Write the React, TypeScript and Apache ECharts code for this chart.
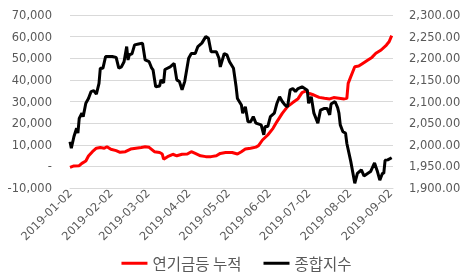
import React, { useEffect, useRef } from 'react';
import * as echarts from 'echarts';

const tickLabels = ['2019-01-02', '2019-02-02', '2019-03-02', '2019-04-02', '2019-05-02', '2019-06-02', '2019-07-02', '2019-08-02', '2019-09-02'];

const fundName = '연기금등 누적';
const kospiName = '종합지수';

const fundDates = ['01-02','01-05','01-09','01-11','01-14','01-16','01-19','01-22','01-25','01-28','01-30','02-02','02-06','02-09','02-13','02-17','02-21','02-25','02-28','03-03','03-07','03-11','03-13','03-14','03-17','03-21','03-24','03-28','04-01','04-04','04-07','04-11','04-15','04-19','04-23','04-26','04-30','05-05','05-09','05-12','05-15','05-19','05-23','05-25','05-28','06-01','06-05','06-08','06-12','06-16','06-20','06-24','06-27','06-30','07-02','07-06','07-10','07-14','07-18','07-21','07-25','07-29','07-31','08-01','08-03','08-06','08-09','08-12','08-16','08-19','08-22','08-26','08-30','09-01','09-03'];
const fundValues = [-500,200,300,1400,2500,4800,6800,8400,8700,8400,9100,7900,7300,6500,6800,8000,8400,8700,9100,8800,6800,6400,5700,3300,4500,5600,4900,5600,5700,6800,6000,4900,4500,4500,4900,6000,6400,6400,5700,6800,8000,8400,8900,9600,12200,14500,17600,20700,24500,27600,29500,31300,34100,34900,33800,33000,31900,31500,31200,31800,31500,31200,31500,38400,41500,46100,46400,47600,49200,50400,52300,53800,56100,57600,60500];

const kospiDates = ['01-02','01-03','01-05','01-07','01-08','01-09','01-11','01-12','01-14','01-16','01-18','01-20','01-22','01-24','01-25','01-27','01-29','02-03','02-06','02-08','02-10','02-12','02-14','02-15','02-16','02-18','02-20','02-23','02-26','02-28','03-03','03-05','03-06','03-08','03-11','03-12','03-14','03-15','03-19','03-22','03-24','03-26','03-28','03-30','04-02','04-04','04-07','04-09','04-12','04-15','04-17','04-19','04-23','04-25','04-26','04-29','05-01','05-03','05-06','05-08','05-09','05-12','05-13','05-15','05-17','05-19','05-21','05-23','05-27','05-29','05-30','06-01','06-03','06-06','06-08','06-10','06-12','06-14','06-16','06-18','06-20','06-22','06-24','06-27','06-29','07-01','07-02','07-04','07-06','07-09','07-11','07-14','07-16','07-18','07-19','07-22','07-24','07-25','07-26','07-28','07-30','07-31','08-03','08-06','08-08','08-11','08-13','08-16','08-18','08-21','08-23','08-25','08-27','08-28','08-29','08-31','09-03'];
const kospiValues = [2007,1992,2019,2038,2027,2061,2073,2065,2096,2107,2123,2125,2117,2142,2177,2177,2204,2204,2202,2177,2180,2192,2227,2196,2208,2210,2231,2233,2235,2196,2192,2177,2173,2134,2136,2150,2143,2174,2180,2188,2150,2146,2127,2146,2200,2211,2211,2227,2235,2250,2246,2215,2215,2200,2180,2211,2208,2192,2177,2134,2107,2092,2073,2088,2053,2053,2065,2050,2046,2023,2042,2042,2065,2073,2096,2111,2100,2092,2088,2127,2130,2123,2130,2134,2130,2126,2096,2111,2073,2050,2080,2084,2084,2069,2094,2100,2086,2073,2046,2030,2027,2003,1961,1911,1934,1942,1928,1934,1938,1958,1940,1918,1934,1934,1964,1965,1970];

const YEAR = 2019;
function ts(s: string): number {
  const p = s.split('-').map(Number);
  if (p.length === 3) return Date.UTC(p[0], p[1] - 1, p[2]);
  return Date.UTC(YEAR, p[0] - 1, p[1]);
}
function fmtDate(v: number): string {
  const d = new Date(v);
  const mm = String(d.getUTCMonth() + 1).padStart(2, '0');
  const dd = String(d.getUTCDate()).padStart(2, '0');
  return `${d.getUTCFullYear()}-${mm}-${dd}`;
}

const FONT = 'DejaVu Sans';
const GREY = '#595959';
const FS = 11.5;

export default function App() {
  const ref = useRef<HTMLDivElement>(null);
  useEffect(() => {
    if (!ref.current) return;
    const chart = echarts.init(ref.current, null, { renderer: 'svg' });
    chart.setOption({
      animation: false,
      grid: { left: 70, right: 80, top: 15, bottom: 90 },
      legend: {
        bottom: 2,
        left: 'center',
        itemWidth: 26,
        itemHeight: 3,
        itemGap: 22,
        icon: 'rect',
        textStyle: { color: GREY, fontSize: 15.5, fontFamily: 'Noto Sans CJK KR' },
        data: [fundName, kospiName],
      },
      xAxis: {
        type: 'value',
        min: ts(tickLabels[0]),
        max: ts('2019-09-04'),
        splitLine: { show: false },
        axisTick: { show: false },
        axisLine: { show: true, onZero: false, lineStyle: { color: '#d9d9d9', width: 1 } },
        axisLabel: {
          customValues: tickLabels.map(ts),
          rotate: 45,
          margin: 3,
          color: GREY,
          fontSize: FS,
          fontFamily: FONT,
          formatter: (v: number) => fmtDate(v),
        },
      },
      yAxis: [
        {
          type: 'value',
          min: -10000,
          max: 70000,
          interval: 10000,
          axisLine: { show: false },
          axisTick: { show: false },
          splitLine: { lineStyle: { color: '#d9d9d9', width: 1 } },
          axisLabel: {
            color: GREY,
            fontSize: FS,
            fontFamily: FONT,
            margin: 18,
            formatter: (v: number) => (v === 0 ? '-' : v.toLocaleString('en-US')),
          },
        },
        {
          type: 'value',
          min: 1900,
          max: 2300,
          interval: 50,
          position: 'right',
          axisLine: { show: false },
          axisTick: { show: false },
          splitLine: { show: false },
          axisLabel: {
            color: GREY,
            fontSize: FS,
            fontFamily: FONT,
            margin: 16,
            formatter: (v: number) =>
              v.toLocaleString('en-US', { minimumFractionDigits: 2, maximumFractionDigits: 2 }),
          },
        },
      ],
      series: [
        {
          name: fundName,
          type: 'line',
          yAxisIndex: 0,
          showSymbol: false,
          symbol: 'none',
          lineStyle: { color: '#ff0000', width: 3 },
          itemStyle: { color: '#ff0000' },
          data: fundDates.map((d, i) => [ts(d), fundValues[i]]),
        },
        {
          name: kospiName,
          type: 'line',
          yAxisIndex: 1,
          showSymbol: false,
          symbol: 'none',
          lineStyle: { color: '#000000', width: 3 },
          itemStyle: { color: '#000000' },
          data: kospiDates.map((d, i) => [ts(d), kospiValues[i]]),
        },
      ],
    });
    return () => chart.dispose();
  }, []);
  return <div ref={ref} style={{ position: 'fixed', left: 0, top: 0, width: 473, height: 278 }} />;
}
